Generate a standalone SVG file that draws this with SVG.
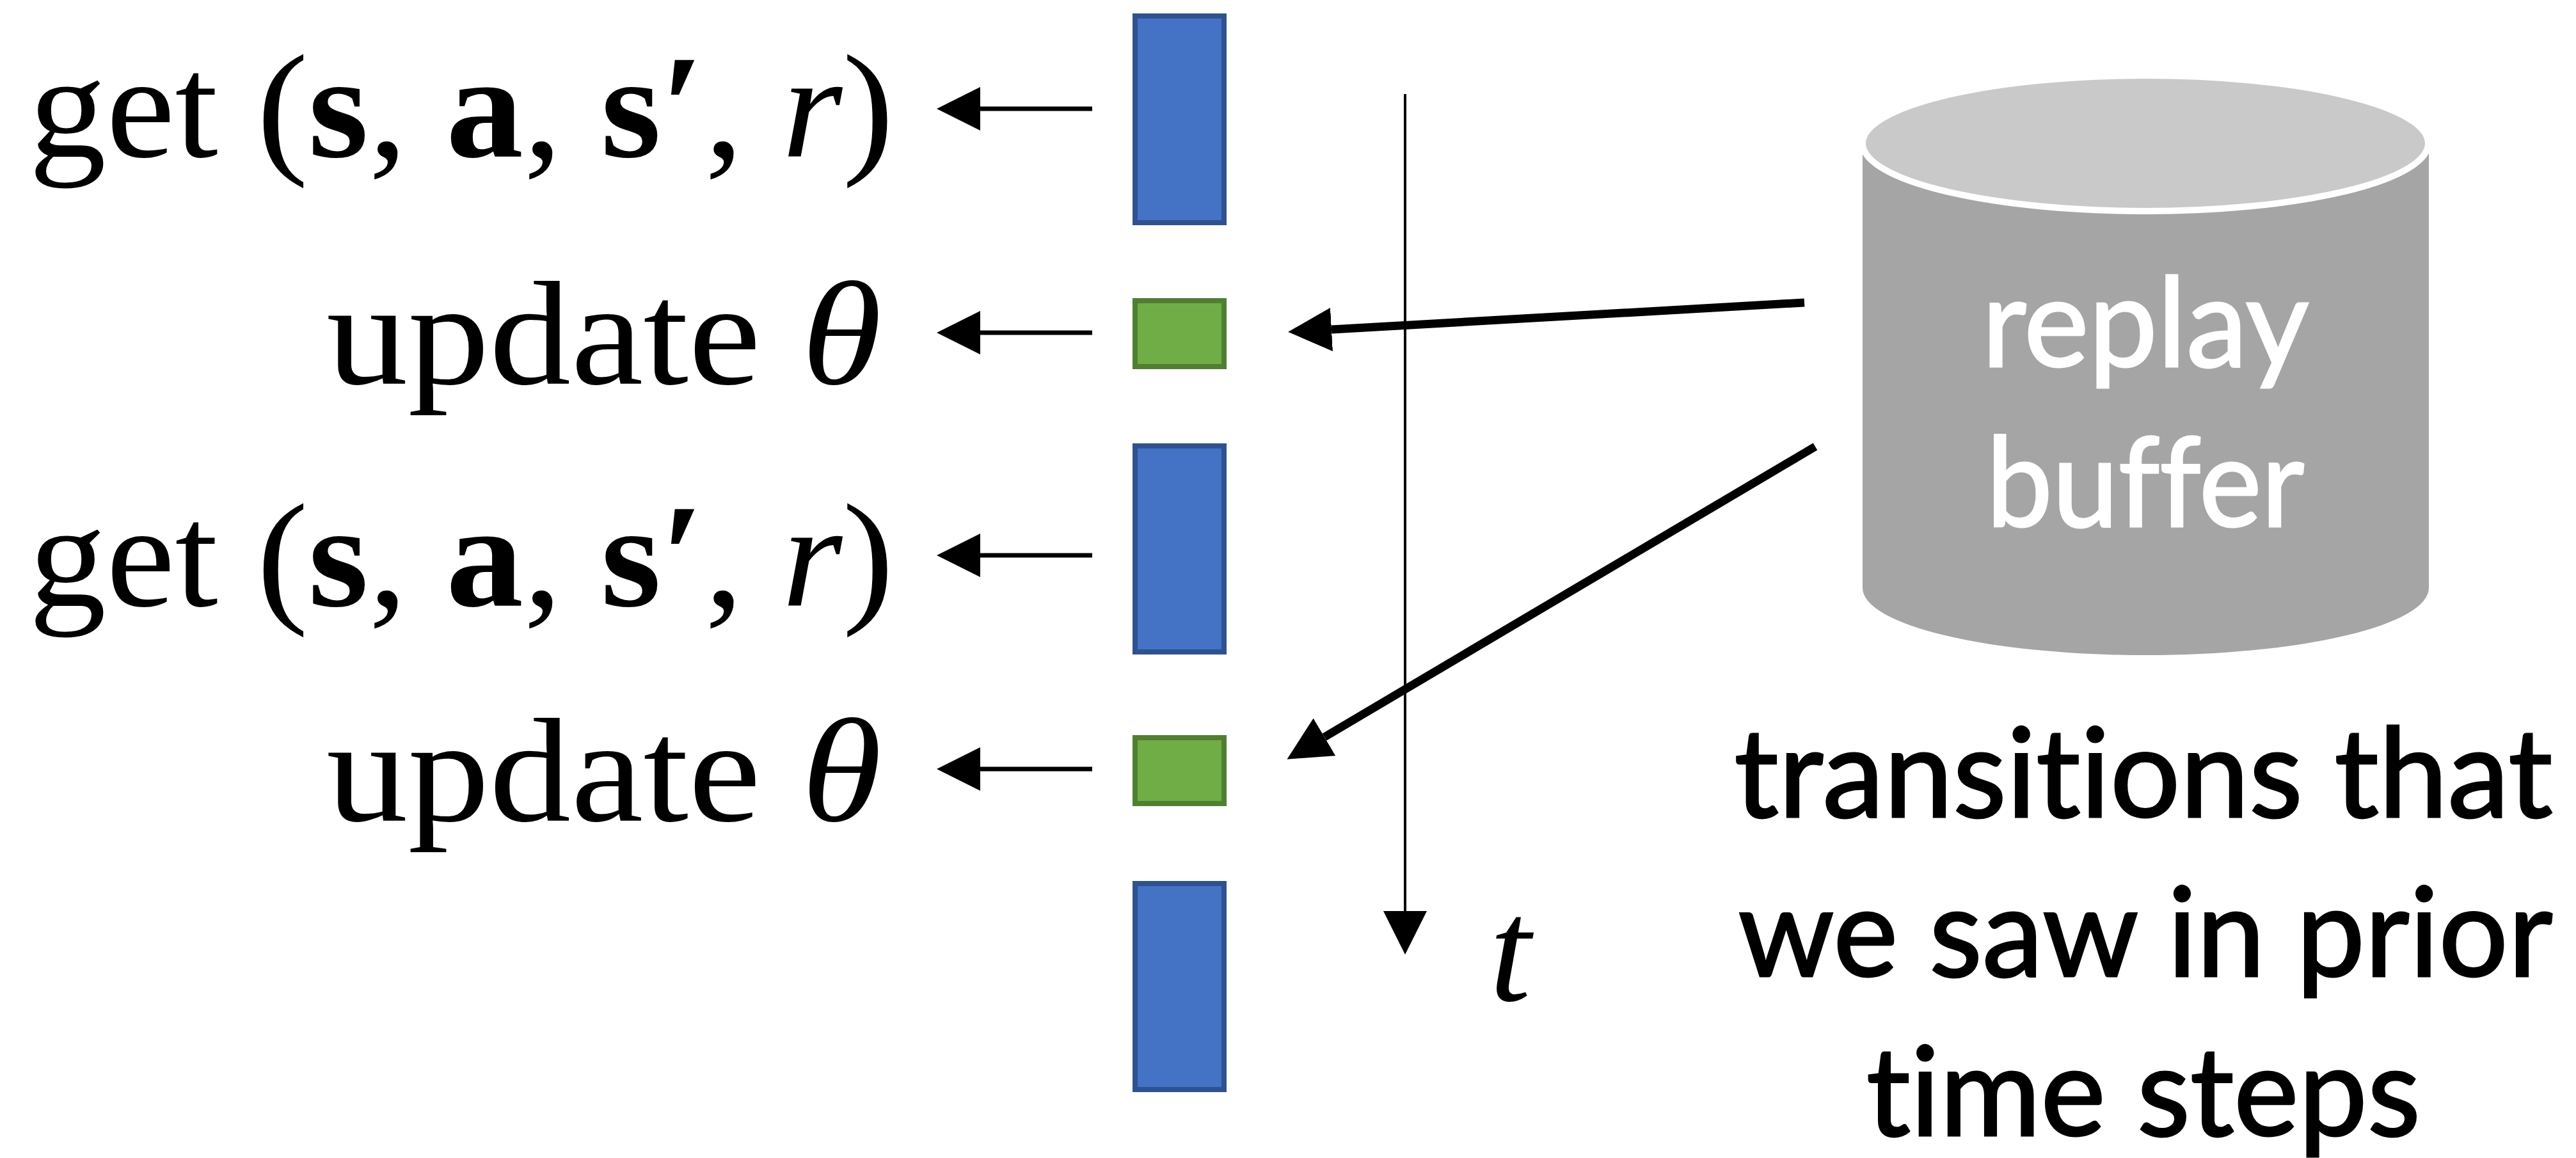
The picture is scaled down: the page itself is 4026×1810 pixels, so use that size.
<svg xmlns="http://www.w3.org/2000/svg" width="4026" height="1810" viewBox="0 0 4026 1810">
<style>
.math{font-family:"Liberation Serif","DejaVu Serif",serif;font-size:232px;fill:#000}
.b{font-weight:bold}
.i{font-style:italic}
.sans{font-family:Lato,"Open Sans","Liberation Sans",sans-serif;font-variant-ligatures:none;font-feature-settings:"liga" 0,"clig" 0}
.white{fill:#fff;stroke:#fff;stroke-width:3}
.black{fill:#000;stroke:#000;stroke-width:3}
.blue{fill:#4472C4;stroke:#2F528F;stroke-width:8}
.green{fill:#70AD47;stroke:#507E32;stroke-width:8}
.conn{stroke:#000;fill:none}
</style>
<defs>
<marker id="ah" markerUnits="userSpaceOnUse" viewBox="0 -34 68 68" refX="0" refY="0" markerWidth="68" markerHeight="68" orient="auto">
<path d="M0,-34 L68,0 L0,34 Z" fill="#000"/>
</marker>
</defs>
<rect width="4026" height="1810" fill="#fff"/>
<g id="step1"><rect class="blue" x="1774" y="25" width="139" height="323"/></g>
<g id="update1"><rect class="green" x="1774" y="470" width="139" height="103"/></g>
<g id="step2"><rect class="blue" x="1774" y="697" width="139" height="322"/></g>
<g id="update2"><rect class="green" x="1774" y="1153" width="139" height="103"/></g>
<g id="step3"><rect class="blue" x="1774" y="1381" width="139" height="322"/></g>
<g id="label-get1"><text class="math" x="1397" y="245" text-anchor="end" textLength="1352" lengthAdjust="spacingAndGlyphs">get (<tspan class="b">s</tspan>, <tspan class="b">a</tspan>, <tspan class="b">s′</tspan>, <tspan class="i">r</tspan>)</text></g>
<g id="label-update1"><text class="math" x="1378" y="600" text-anchor="end" textLength="868" lengthAdjust="spacingAndGlyphs">update <tspan class="i">θ</tspan></text></g>
<g id="label-get2"><text class="math" x="1397" y="947" text-anchor="end" textLength="1352" lengthAdjust="spacingAndGlyphs">get (<tspan class="b">s</tspan>, <tspan class="b">a</tspan>, <tspan class="b">s′</tspan>, <tspan class="i">r</tspan>)</text></g>
<g id="label-update2"><text class="math" x="1378" y="1283" text-anchor="end" textLength="868" lengthAdjust="spacingAndGlyphs">update <tspan class="i">θ</tspan></text></g>
<g id="time-label"><text class="math i" x="2328" y="1564">t</text></g>
<g id="replay-buffer">
<path d="M2911,221 L2911,919 A442,105 0 0 0 3796,919 L3796,221 Z" fill="#A5A5A5"/>
<ellipse cx="3353" cy="224" rx="442" ry="106" fill="#C9C9C9" stroke="#fff" stroke-width="10"/>
<text class="sans white" x="3353" y="573" text-anchor="middle" font-size="195" textLength="511" lengthAdjust="spacingAndGlyphs">replay</text>
<text class="sans white" x="3353" y="823" text-anchor="middle" font-size="195" textLength="497" lengthAdjust="spacingAndGlyphs">buffer</text>
</g>
<g id="caption">
<text class="sans black" x="3350" y="1277" text-anchor="middle" font-size="195" textLength="1279" lengthAdjust="spacingAndGlyphs">transitions that</text>
<text class="sans black" x="3353" y="1526" text-anchor="middle" font-size="195" textLength="1273" lengthAdjust="spacingAndGlyphs">we saw in prior</text>
<text class="sans black" x="3350" y="1775" text-anchor="middle" font-size="195" textLength="866" lengthAdjust="spacingAndGlyphs">time steps</text>
</g>
<g id="connectors">
<line class="conn" x1="1707" y1="170" x2="1532" y2="170" stroke-width="7" marker-end="url(#ah)"/>
<line class="conn" x1="1707" y1="520" x2="1532" y2="520" stroke-width="7" marker-end="url(#ah)"/>
<line class="conn" x1="1707" y1="868" x2="1532" y2="868" stroke-width="7" marker-end="url(#ah)"/>
<line class="conn" x1="1707" y1="1202" x2="1532" y2="1202" stroke-width="7" marker-end="url(#ah)"/>
<line class="conn" x1="2196" y1="147" x2="2196" y2="1424" stroke-width="4" marker-end="url(#ah)"/>
<line class="conn" x1="2820" y1="473" x2="2081" y2="515" stroke-width="13" marker-end="url(#ah)"/>
<line class="conn" x1="2837" y1="698" x2="2070" y2="1152" stroke-width="13" marker-end="url(#ah)"/>
</g>
</svg>
